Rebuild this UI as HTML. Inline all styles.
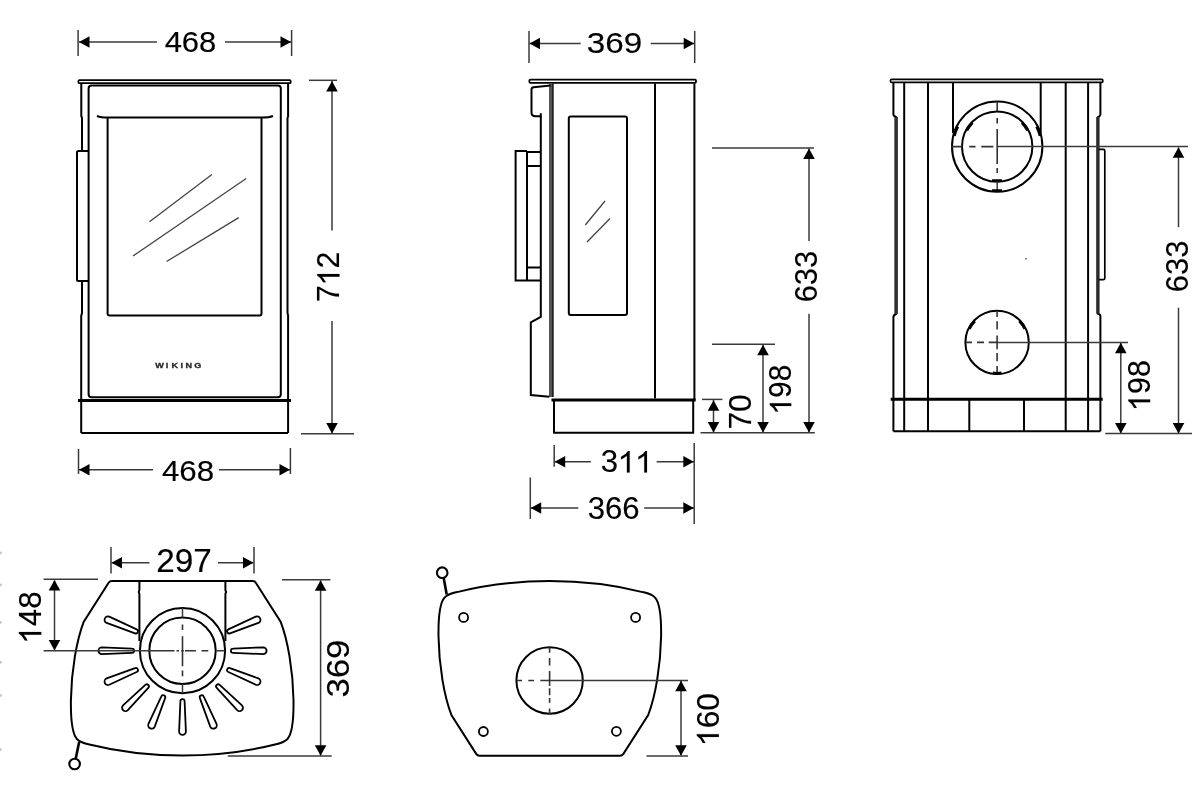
<!DOCTYPE html>
<html><head><meta charset="utf-8"><title>Stove dimensions</title>
<style>
html,body{margin:0;padding:0;background:#fff;width:1200px;height:802px;overflow:hidden}
svg{display:block;will-change:transform}
.o{stroke:#000;stroke-width:2;fill:none}
.d{stroke:#3a3a3a;stroke-width:1.5;fill:none}
.c{stroke:#444;stroke-width:1.5;fill:none;stroke-dasharray:11 4 5 4}
.cs{stroke:#333;stroke-width:1.6;fill:none}
.g{stroke:#444;stroke-width:1.3}
.ar{fill:#000}
.t{font-family:"Liberation Sans",sans-serif;font-size:31px;fill:#000;stroke:#000;stroke-width:0.15px}
</style></head>
<body>
<svg width="1200" height="802" viewBox="0 0 1200 802">
<rect width="1200" height="802" fill="#fff"/>
<line class="d" x1="78.1" y1="30" x2="78.1" y2="56"/>
<line class="d" x1="291.6" y1="30" x2="291.6" y2="56"/>
<line class="d" x1="79" y1="42" x2="157" y2="42"/>
<line class="d" x1="225" y1="42" x2="291" y2="42"/>
<polygon class="ar" points="79.0,42.0 89.5,36.2 89.5,47.8"/>
<polygon class="ar" points="291.0,42.0 280.5,36.2 280.5,47.8"/>
<g transform="translate(164.63,52.46) scale(0.9999,0.9474)"><text x="0.000" y="0" font-family="Liberation Sans, sans-serif" font-size="31" fill="#000" stroke="#000" stroke-width="0.15">4</text><text x="17.236" y="0" font-family="Liberation Sans, sans-serif" font-size="31" fill="#000" stroke="#000" stroke-width="0.15">6</text><text x="34.472" y="0" font-family="Liberation Sans, sans-serif" font-size="31" fill="#000" stroke="#000" stroke-width="0.15">8</text></g>
<rect class="o" x="78.4" y="80.2" width="212.3" height="3.0" rx="1" style="stroke-width:1.7px"/>
<path class="o" d="M81.3,84 V116 L82,118 V151 M82,281 V313 L81.2,316 V433"/>
<path class="o" d="M288.1,84 V116.5 L287.5,118 V313 L288.1,315.5 V433"/>
<path class="o" d="M88.6,394.3 V88.6 Q88.6,85.6 91.6,85.6 H277.8 Q280.8,85.6 280.8,88.6 V394.3 Q280.8,397.3 277.8,397.3 H91.6 Q88.6,397.3 88.6,394.3 Z"/>
<line class="o" x1="78" y1="400.4" x2="291" y2="400.4" style="stroke-width:3px"/>
<line class="o" x1="81.2" y1="433" x2="288" y2="433"/>
<path class="o" d="M97,116 Q101,117.6 108,117.6 H262 Q269,117.6 273,116"/>
<path class="o" d="M107.6,117.6 V313.5 Q107.6,315.5 109.6,315.5 H259.5 Q261.5,315.5 261.5,313.5 V117.6"/>
<path class="o" d="M88.6,151 H78.5 Q77,151 77,152.5 V279.5 Q77,281 78.5,281 H88.6"/>
<line class="g" x1="149.5" y1="221.7" x2="211.9" y2="174.4"/>
<line class="g" x1="133" y1="256" x2="246.2" y2="178.5"/>
<line class="g" x1="166.6" y1="261.5" x2="238.7" y2="217.6"/>
<text x="155.2 164.9 170.3 178.6 183.2 191.4" y="367.9" font-size="8.4" font-weight="bold" fill="#2a2a2a" stroke="#2a2a2a" stroke-width="0.35" font-family="Liberation Sans, sans-serif" transform="translate(155,367.8) scale(1.08,0.86) translate(-155,-367.8)">WIKING</text>
<line class="d" x1="309" y1="80.3" x2="337" y2="80.3"/>
<line class="d" x1="301" y1="433.8" x2="354" y2="433.8"/>
<line class="d" x1="332" y1="81" x2="332" y2="230.6"/>
<line class="d" x1="332" y1="321" x2="332" y2="433"/>
<polygon class="ar" points="332.0,81.0 326.2,91.5 337.8,91.5"/>
<polygon class="ar" points="332.0,433.5 326.2,423.0 337.8,423.0"/>
<g transform="translate(339.34,302.11) rotate(-90) scale(0.9760,1.0204)"><text x="0.000" y="0" font-family="Liberation Sans, sans-serif" font-size="31" fill="#000" stroke="#000" stroke-width="0.15">7</text><path d="M0.373,0.005 H0.285 V-0.545 Q0.2,-0.476 0.098,-0.424 V-0.51 Q0.255,-0.585 0.322,-0.70 H0.373 Z" transform="translate(17.236,0) scale(31)" fill="#000" stroke="#000" stroke-width="0.00484"/><text x="34.472" y="0" font-family="Liberation Sans, sans-serif" font-size="31" fill="#000" stroke="#000" stroke-width="0.15">2</text></g>
<line class="d" x1="78.5" y1="449" x2="78.5" y2="474"/>
<line class="d" x1="290.4" y1="448" x2="290.4" y2="474"/>
<line class="d" x1="79" y1="469.8" x2="153" y2="469.8"/>
<line class="d" x1="219" y1="469.8" x2="290" y2="469.8"/>
<polygon class="ar" points="79.0,469.8 89.5,464.0 89.5,475.6"/>
<polygon class="ar" points="290.0,469.8 279.5,464.0 279.5,475.6"/>
<g transform="translate(161.97,481.20) scale(1.0089,0.9700)"><text x="0.000" y="0" font-family="Liberation Sans, sans-serif" font-size="31" fill="#000" stroke="#000" stroke-width="0.15">4</text><text x="17.236" y="0" font-family="Liberation Sans, sans-serif" font-size="31" fill="#000" stroke="#000" stroke-width="0.15">6</text><text x="34.472" y="0" font-family="Liberation Sans, sans-serif" font-size="31" fill="#000" stroke="#000" stroke-width="0.15">8</text></g>
<line class="d" x1="529" y1="31" x2="529" y2="63"/>
<line class="d" x1="694.7" y1="31" x2="694.7" y2="63"/>
<line class="d" x1="529.5" y1="43.5" x2="580.7" y2="43.5"/>
<line class="d" x1="650.7" y1="43.5" x2="694.2" y2="43.5"/>
<polygon class="ar" points="529.5,43.5 540.0,37.7 540.0,49.3"/>
<polygon class="ar" points="694.2,43.5 683.7,37.7 683.7,49.3"/>
<g transform="translate(586.74,52.70) scale(1.0712,0.9677)"><text x="0.000" y="0" font-family="Liberation Sans, sans-serif" font-size="31" fill="#000" stroke="#000" stroke-width="0.15">3</text><text x="17.236" y="0" font-family="Liberation Sans, sans-serif" font-size="31" fill="#000" stroke="#000" stroke-width="0.15">6</text><text x="34.472" y="0" font-family="Liberation Sans, sans-serif" font-size="31" fill="#000" stroke="#000" stroke-width="0.15">9</text></g>
<rect class="o" x="529.4" y="79.6" width="166.6" height="3.2" rx="1" style="stroke-width:1.8px"/>
<line class="o" x1="694.4" y1="83.6" x2="694.4" y2="400"/>
<line class="o" x1="655" y1="83.6" x2="655" y2="398.5"/>
<rect x="549" y="83.6" width="3.3" height="313.4" fill="#555"/><line x1="552.9" y1="83.6" x2="552.9" y2="397" stroke="#111" stroke-width="1.6"/>
<path class="o" d="M550.6,85.6 L533.5,87.2 Q531.5,87.5 531.5,89.5 V112.5 Q531.5,116.2 535.5,116.2 H540.8 V113.3"/>
<path class="o" d="M540.8,116.2 V316.8 L530.8,322.4 V395 L549.3,396.8"/>
<path class="o" d="M527,151 H515.6 V280.6 H540.8 M527,151 V280.6 M527,152 H540.8 M527,166 H540.8 M527,267.6 H540.8"/>
<rect class="o" x="568.8" y="116.6" width="58.2" height="198.4" rx="2"/>
<line class="g" x1="585.3" y1="225" x2="605" y2="201"/>
<line class="g" x1="587" y1="242" x2="610" y2="218.5"/>
<line class="o" x1="551.5" y1="400" x2="695.7" y2="400" style="stroke-width:3px"/>
<path class="o" d="M554,400 V432.7 H693.2 V400"/>
<line class="d" x1="712" y1="148" x2="814" y2="148"/>
<line class="d" x1="809" y1="148.5" x2="809" y2="241"/>
<line class="d" x1="809" y1="313.7" x2="809" y2="432"/>
<polygon class="ar" points="809.0,148.5 803.2,159.0 814.8,159.0"/>
<polygon class="ar" points="809.0,432.6 803.2,422.1 814.8,422.1"/>
<g transform="translate(816.98,302.35) rotate(-90) scale(0.9995,1.0313)"><text x="0.000" y="0" font-family="Liberation Sans, sans-serif" font-size="31" fill="#000" stroke="#000" stroke-width="0.15">6</text><text x="17.236" y="0" font-family="Liberation Sans, sans-serif" font-size="31" fill="#000" stroke="#000" stroke-width="0.15">3</text><text x="34.472" y="0" font-family="Liberation Sans, sans-serif" font-size="31" fill="#000" stroke="#000" stroke-width="0.15">3</text></g>
<line class="d" x1="712" y1="344.3" x2="775" y2="344.3"/>
<line class="d" x1="763" y1="345" x2="763" y2="432"/>
<polygon class="ar" points="763.0,344.8 757.2,355.3 768.8,355.3"/>
<polygon class="ar" points="763.0,432.6 757.2,422.1 768.8,422.1"/>
<g transform="translate(791.10,414.54) rotate(-90) scale(0.9656,0.9835)"><path d="M0.373,0.005 H0.285 V-0.545 Q0.2,-0.476 0.098,-0.424 V-0.51 Q0.255,-0.585 0.322,-0.70 H0.373 Z" transform="translate(0.000,0) scale(31)" fill="#000" stroke="#000" stroke-width="0.00484"/><text x="17.236" y="0" font-family="Liberation Sans, sans-serif" font-size="31" fill="#000" stroke="#000" stroke-width="0.15">9</text><text x="34.472" y="0" font-family="Liberation Sans, sans-serif" font-size="31" fill="#000" stroke="#000" stroke-width="0.15">8</text></g>
<line class="d" x1="702" y1="399.4" x2="722.4" y2="399.4"/>
<line class="d" x1="713.5" y1="400" x2="713.5" y2="432"/>
<polygon class="ar" points="713.5,400.2 707.7,410.7 719.3,410.7"/>
<polygon class="ar" points="713.5,432.6 707.7,422.1 719.3,422.1"/>
<g transform="translate(750.59,429.60) rotate(-90) scale(1.0291,1.0086)"><text x="0.000" y="0" font-family="Liberation Sans, sans-serif" font-size="31" fill="#000" stroke="#000" stroke-width="0.15">7</text><text x="17.236" y="0" font-family="Liberation Sans, sans-serif" font-size="31" fill="#000" stroke="#000" stroke-width="0.15">0</text></g>
<line class="d" x1="700.5" y1="432.8" x2="814.8" y2="432.8"/>
<line class="d" x1="554.2" y1="445" x2="554.2" y2="466.7"/>
<line class="d" x1="694.2" y1="443" x2="694.2" y2="524"/>
<line class="d" x1="554.5" y1="461.7" x2="590.8" y2="461.7"/>
<line class="d" x1="656.7" y1="461.7" x2="694" y2="461.7"/>
<polygon class="ar" points="554.7,461.7 565.2,455.9 565.2,467.5"/>
<polygon class="ar" points="693.8,461.7 683.3,455.9 683.3,467.5"/>
<g transform="translate(600.66,472.44) scale(1.0067,0.9882)"><text x="0.000" y="0" font-family="Liberation Sans, sans-serif" font-size="31" fill="#000" stroke="#000" stroke-width="0.15">3</text><path d="M0.373,0.005 H0.285 V-0.545 Q0.2,-0.476 0.098,-0.424 V-0.51 Q0.255,-0.585 0.322,-0.70 H0.373 Z" transform="translate(17.236,0) scale(31)" fill="#000" stroke="#000" stroke-width="0.00484"/><path d="M0.373,0.005 H0.285 V-0.545 Q0.2,-0.476 0.098,-0.424 V-0.51 Q0.255,-0.585 0.322,-0.70 H0.373 Z" transform="translate(34.472,0) scale(31)" fill="#000" stroke="#000" stroke-width="0.00484"/></g>
<line class="d" x1="530.3" y1="477.5" x2="530.3" y2="519"/>
<line class="d" x1="530.5" y1="508" x2="578.3" y2="508"/>
<line class="d" x1="644.2" y1="508" x2="694" y2="508"/>
<polygon class="ar" points="530.7,508.0 541.2,502.2 541.2,513.8"/>
<polygon class="ar" points="693.8,508.0 683.3,502.2 683.3,513.8"/>
<g transform="translate(587.66,519.10) scale(1.0053,0.9814)"><text x="0.000" y="0" font-family="Liberation Sans, sans-serif" font-size="31" fill="#000" stroke="#000" stroke-width="0.15">3</text><text x="17.236" y="0" font-family="Liberation Sans, sans-serif" font-size="31" fill="#000" stroke="#000" stroke-width="0.15">6</text><text x="34.472" y="0" font-family="Liberation Sans, sans-serif" font-size="31" fill="#000" stroke="#000" stroke-width="0.15">6</text></g>
<rect class="o" x="890.5" y="79.4" width="212.3" height="2.9" rx="1" style="stroke-width:1.7px"/>
<path class="o" d="M893.4,82.4 V114.5 Q893.4,116 896.2,117.2 V314 Q893.4,315 893.4,317 V431.3"/>
<line x1="896.1" y1="117" x2="896.1" y2="314" stroke="#2e2e2e" stroke-width="3.5"/>
<path class="o" d="M1100.4,82.4 V114.5 Q1100.4,116 1097.9,117.2 V313.7 Q1100.4,314.2 1100.4,316 V431.3"/>
<line x1="1097.9" y1="117" x2="1097.9" y2="313.7" stroke="#2a2a2a" stroke-width="3.4"/>
<line class="o" x1="904.2" y1="82.4" x2="904.2" y2="431.3"/>
<line class="o" x1="928" y1="82.4" x2="928" y2="431.3"/>
<line class="o" x1="1065.7" y1="82.4" x2="1065.7" y2="431.3"/>
<line class="o" x1="1088.1" y1="82.4" x2="1088.1" y2="431.3"/>
<line class="o" x1="953" y1="82.4" x2="953" y2="133"/>
<line class="o" x1="1040.7" y1="82.4" x2="1040.7" y2="133"/>
<line class="o" x1="890.7" y1="399.3" x2="1102.7" y2="399.3" style="stroke-width:3px"/>
<line class="o" x1="893.4" y1="431.3" x2="1100.4" y2="431.3"/>
<line class="o" x1="969.3" y1="399.3" x2="969.3" y2="431.3"/>
<line class="o" x1="1024" y1="399.3" x2="1024" y2="431.3"/>
<path class="o" style="stroke-width:1.7px" d="M1098.9,149.4 H1103.3 Q1104.8,149.4 1104.8,150.9 V278.2 Q1104.8,279.7 1103.3,279.7 H1098.9"/>
<circle class="o" cx="997.2" cy="146.6" r="45.2" style="fill:#fff"/>
<circle class="o" cx="997.2" cy="146.6" r="35.2"/>
<path class="cs" d="M951.3,146.6 H962.2 M969.2,146.6 H975.5 M981.3,146.6 H993.4"/>
<line class="d" x1="997.2" y1="146.6" x2="1188" y2="146.6"/>
<path class="cs" d="M997.2,101.5 V111 M997.2,118.1 V123.6 M997.2,129.1 V164 M997.2,168.1 V173"/>
<line class="d" x1="997.2" y1="181" x2="997.2" y2="191"/>
<path d="M992,180.5 H1002 M992,190.5 H1002" stroke="#000" stroke-width="2.6"/>
<path d="M966.74,130.40 A34.5,34.5 0 0 1 972.38,122.63" stroke="#000" stroke-width="3.0" fill="none"/>
<path d="M1022.02,122.63 A34.5,34.5 0 0 1 1027.66,130.40" stroke="#000" stroke-width="3.0" fill="none"/>
<path d="M954.12,135.86 A44.4,44.4 0 0 1 957.64,126.44" stroke="#000" stroke-width="3.2" fill="none"/>
<path d="M1036.76,126.44 A44.4,44.4 0 0 1 1040.28,135.86" stroke="#000" stroke-width="3.2" fill="none"/>
<circle class="o" cx="997.1" cy="342.4" r="31.7"/>
<path class="cs" d="M965.7,342.4 H972 M977,342.4 H984 M988.7,342.4 H997"/>
<line class="d" x1="997.1" y1="342.4" x2="1128" y2="342.4"/>
<path class="cs" d="M997.1,310.8 V317 M997.1,321.2 V329.5 M997.1,335.5 V349.3 M997.1,353 V361.3 M997.1,366 V373.5"/>
<path d="M969.24,328.81 A31.0,31.0 0 0 1 974.80,320.87" stroke="#000" stroke-width="3.0" fill="none"/>
<path d="M1019.40,320.87 A31.0,31.0 0 0 1 1024.96,328.81" stroke="#000" stroke-width="3.0" fill="none"/>
<path d="M1001.41,373.10 A31.0,31.0 0 0 1 992.79,373.10" stroke="#000" stroke-width="3.0" fill="none"/>
<circle cx="1026" cy="258.7" r="0.8" fill="#333"/>
<line class="d" x1="1178.5" y1="147.5" x2="1178.5" y2="227.2"/>
<line class="d" x1="1178.5" y1="307.7" x2="1178.5" y2="433"/>
<polygon class="ar" points="1178.5,147.2 1172.7,157.7 1184.3,157.7"/>
<polygon class="ar" points="1178.5,433.5 1172.7,423.0 1184.3,423.0"/>
<g transform="translate(1188.29,292.15) rotate(-90) scale(0.9995,1.0132)"><text x="0.000" y="0" font-family="Liberation Sans, sans-serif" font-size="31" fill="#000" stroke="#000" stroke-width="0.15">6</text><text x="17.236" y="0" font-family="Liberation Sans, sans-serif" font-size="31" fill="#000" stroke="#000" stroke-width="0.15">3</text><text x="34.472" y="0" font-family="Liberation Sans, sans-serif" font-size="31" fill="#000" stroke="#000" stroke-width="0.15">3</text></g>
<line class="d" x1="1120.8" y1="343" x2="1120.8" y2="433"/>
<polygon class="ar" points="1120.8,342.8 1115.0,353.3 1126.6,353.3"/>
<polygon class="ar" points="1120.8,433.5 1115.0,423.0 1126.6,423.0"/>
<g transform="translate(1149.99,410.90) rotate(-90) scale(0.9846,1.0016)"><path d="M0.373,0.005 H0.285 V-0.545 Q0.2,-0.476 0.098,-0.424 V-0.51 Q0.255,-0.585 0.322,-0.70 H0.373 Z" transform="translate(0.000,0) scale(31)" fill="#000" stroke="#000" stroke-width="0.00484"/><text x="17.236" y="0" font-family="Liberation Sans, sans-serif" font-size="31" fill="#000" stroke="#000" stroke-width="0.15">9</text><text x="34.472" y="0" font-family="Liberation Sans, sans-serif" font-size="31" fill="#000" stroke="#000" stroke-width="0.15">8</text></g>
<line class="d" x1="1105.3" y1="433.5" x2="1192" y2="433.5"/>
<path class="o" d="M112.00,580.90 H252.40 Q254.60,580.90 255.80,582.70 L280.60,621.60 C287.70,640.00 293.00,670.00 293.50,700.00 C293.80,722.00 292.00,734.00 287.50,739.00 C284.50,742.00 280.00,743.50 275.00,744.50 C245.00,752.00 215.00,755.50 182.20,755.50 C149.40,755.50 119.40,752.00 89.40,744.50 C84.40,743.50 79.90,742.00 76.90,739.00 C72.40,734.00 70.60,722.00 70.90,700.00 C71.40,670.00 76.70,640.00 83.80,621.60 L108.60,582.70 Q109.80,580.90 112.00,580.90 Z"/>
<path class="o" d="M139.4,580.2 V590 L138.7,592 L139.4,594 V641 M225.4,580.2 V590 L226.1,592 L225.4,594 V641"/>
<circle class="o" cx="182.5" cy="650.7" r="42.6" style="fill:#fff"/>
<circle class="o" cx="182.5" cy="650.7" r="33.2"/>
<path class="o" style="stroke-width:1.8px" transform="translate(182.5,650.7) rotate(-22.5)" d="M50.5,-2.1 L80.7,-3.4 A3.4,3.4 0 0 1 80.7,3.4 L50.5,2.1 A2.1,2.1 0 0 1 50.5,-2.1 Z"/>
<path class="o" style="stroke-width:1.8px" transform="translate(182.5,650.7) rotate(0.0)" d="M50.5,-2.1 L80.7,-3.4 A3.4,3.4 0 0 1 80.7,3.4 L50.5,2.1 A2.1,2.1 0 0 1 50.5,-2.1 Z"/>
<path class="o" style="stroke-width:1.8px" transform="translate(182.5,650.7) rotate(22.5)" d="M50.5,-2.1 L80.7,-3.4 A3.4,3.4 0 0 1 80.7,3.4 L50.5,2.1 A2.1,2.1 0 0 1 50.5,-2.1 Z"/>
<path class="o" style="stroke-width:1.8px" transform="translate(182.5,650.7) rotate(45.0)" d="M50.5,-2.1 L80.7,-3.4 A3.4,3.4 0 0 1 80.7,3.4 L50.5,2.1 A2.1,2.1 0 0 1 50.5,-2.1 Z"/>
<path class="o" style="stroke-width:1.8px" transform="translate(182.5,650.7) rotate(67.5)" d="M50.5,-2.1 L80.7,-3.4 A3.4,3.4 0 0 1 80.7,3.4 L50.5,2.1 A2.1,2.1 0 0 1 50.5,-2.1 Z"/>
<path class="o" style="stroke-width:1.8px" transform="translate(182.5,650.7) rotate(90.0)" d="M50.5,-2.1 L80.7,-3.4 A3.4,3.4 0 0 1 80.7,3.4 L50.5,2.1 A2.1,2.1 0 0 1 50.5,-2.1 Z"/>
<path class="o" style="stroke-width:1.8px" transform="translate(182.5,650.7) rotate(112.5)" d="M50.5,-2.1 L80.7,-3.4 A3.4,3.4 0 0 1 80.7,3.4 L50.5,2.1 A2.1,2.1 0 0 1 50.5,-2.1 Z"/>
<path class="o" style="stroke-width:1.8px" transform="translate(182.5,650.7) rotate(135.0)" d="M50.5,-2.1 L80.7,-3.4 A3.4,3.4 0 0 1 80.7,3.4 L50.5,2.1 A2.1,2.1 0 0 1 50.5,-2.1 Z"/>
<path class="o" style="stroke-width:1.8px" transform="translate(182.5,650.7) rotate(157.5)" d="M50.5,-2.1 L80.7,-3.4 A3.4,3.4 0 0 1 80.7,3.4 L50.5,2.1 A2.1,2.1 0 0 1 50.5,-2.1 Z"/>
<path class="o" style="stroke-width:1.8px" transform="translate(182.5,650.7) rotate(180.0)" d="M50.5,-2.1 L80.7,-3.4 A3.4,3.4 0 0 1 80.7,3.4 L50.5,2.1 A2.1,2.1 0 0 1 50.5,-2.1 Z"/>
<path class="o" style="stroke-width:1.8px" transform="translate(182.5,650.7) rotate(202.5)" d="M50.5,-2.1 L80.7,-3.4 A3.4,3.4 0 0 1 80.7,3.4 L50.5,2.1 A2.1,2.1 0 0 1 50.5,-2.1 Z"/>
<line class="d" x1="43.6" y1="650.7" x2="150" y2="650.7"/>
<path class="cs" d="M150,650.7 H174.5 M176.5,650.7 H179 M181.2,650.7 H183.8 M185,650.7 H195.9 M201.5,650.7 H208.3 M216.5,650.7 H224.5"/>
<path class="cs" d="M182.5,624.4 V630 M182.5,636.2 V666.2 M182.5,670.6 V676.2"/>
<line class="d" x1="182.5" y1="608" x2="182.5" y2="617.5"/><line class="d" x1="182.5" y1="684" x2="182.5" y2="693.4"/>
<line x1="79.2" y1="741.7" x2="75.8" y2="758.3" stroke="#000" stroke-width="2.6"/>
<circle class="o" cx="74.6" cy="764" r="5.3" style="fill:#fff;stroke-width:2.1px"/>
<line class="d" x1="111" y1="547" x2="111" y2="573.6"/>
<line class="d" x1="254" y1="547" x2="254" y2="573.6"/>
<line class="d" x1="111.5" y1="562.7" x2="149.5" y2="562.7"/>
<line class="d" x1="218" y1="562.7" x2="253.5" y2="562.7"/>
<polygon class="ar" points="111.5,562.7 122.0,556.9 122.0,568.5"/>
<polygon class="ar" points="253.5,562.7 243.0,556.9 243.0,568.5"/>
<g transform="translate(156.24,571.56) scale(1.0725,1.0995)"><text x="0.000" y="0" font-family="Liberation Sans, sans-serif" font-size="31" fill="#000" stroke="#000" stroke-width="0.15">2</text><text x="17.236" y="0" font-family="Liberation Sans, sans-serif" font-size="31" fill="#000" stroke="#000" stroke-width="0.15">9</text><text x="34.472" y="0" font-family="Liberation Sans, sans-serif" font-size="31" fill="#000" stroke="#000" stroke-width="0.15">7</text></g>
<line class="d" x1="43.6" y1="579.2" x2="98" y2="579.2"/>
<line class="d" x1="54.5" y1="580.5" x2="54.5" y2="650"/>
<polygon class="ar" points="54.5,580.0 48.7,590.5 60.3,590.5"/>
<polygon class="ar" points="54.5,650.5 48.7,640.0 60.3,640.0"/>
<g transform="translate(41.08,643.57) rotate(-90) scale(1.0099,1.0241)"><path d="M0.373,0.005 H0.285 V-0.545 Q0.2,-0.476 0.098,-0.424 V-0.51 Q0.255,-0.585 0.322,-0.70 H0.373 Z" transform="translate(0.000,0) scale(31)" fill="#000" stroke="#000" stroke-width="0.00484"/><text x="17.236" y="0" font-family="Liberation Sans, sans-serif" font-size="31" fill="#000" stroke="#000" stroke-width="0.15">4</text><text x="34.472" y="0" font-family="Liberation Sans, sans-serif" font-size="31" fill="#000" stroke="#000" stroke-width="0.15">8</text></g>
<line class="d" x1="282" y1="579.8" x2="330.4" y2="579.8"/>
<line class="d" x1="227.7" y1="756" x2="331.7" y2="756"/>
<line class="d" x1="320.6" y1="580.5" x2="320.6" y2="755.5"/>
<polygon class="ar" points="320.6,580.3 314.8,590.8 326.4,590.8"/>
<polygon class="ar" points="320.6,755.8 314.8,745.3 326.4,745.3"/>
<g transform="translate(349.08,697.62) rotate(-90) scale(1.1240,1.0177)"><text x="0.000" y="0" font-family="Liberation Sans, sans-serif" font-size="31" fill="#000" stroke="#000" stroke-width="0.15">3</text><text x="17.236" y="0" font-family="Liberation Sans, sans-serif" font-size="31" fill="#000" stroke="#000" stroke-width="0.15">6</text><text x="34.472" y="0" font-family="Liberation Sans, sans-serif" font-size="31" fill="#000" stroke="#000" stroke-width="0.15">9</text></g>
<g transform="translate(367.6,1336.6) scale(1,-1)"><path class="o" d="M112.00,580.90 H252.40 Q254.60,580.90 255.80,582.70 L280.60,621.60 C287.70,640.00 293.00,670.00 293.50,700.00 C293.80,722.00 292.00,734.00 287.50,739.00 C284.50,742.00 280.00,743.50 275.00,744.50 C245.00,752.00 215.00,755.50 182.20,755.50 C149.40,755.50 119.40,752.00 89.40,744.50 C84.40,743.50 79.90,742.00 76.90,739.00 C72.40,734.00 70.60,722.00 70.90,700.00 C71.40,670.00 76.70,640.00 83.80,621.60 L108.60,582.70 Q109.80,580.90 112.00,580.90 Z"/></g>
<circle class="o" cx="463.6" cy="617.4" r="4.5" style="stroke-width:1.8px"/>
<circle class="o" cx="635.6" cy="617.4" r="4.5" style="stroke-width:1.8px"/>
<circle class="o" cx="483.4" cy="731.5" r="4.5" style="stroke-width:1.8px"/>
<circle class="o" cx="616.4" cy="731.3" r="4.5" style="stroke-width:1.8px"/>
<circle class="o" cx="549.6" cy="680.5" r="33.2"/>
<path class="cs" d="M516.7,680.5 H522 M528.3,680.5 H534 M540.3,680.5 H549.7"/>
<line class="d" x1="549.6" y1="680.5" x2="688" y2="680.5"/>
<path class="cs" d="M549.6,647.2 V652.8 M549.6,658 V665.4 M549.6,671 V686 M549.6,688.3 V695.3 M549.6,698.1 V702.8 M549.6,708.4 V714"/>
<line x1="443.7" y1="578" x2="446.7" y2="594.4" stroke="#000" stroke-width="2.6"/>
<circle class="o" cx="442.2" cy="572.7" r="5.3" style="fill:#fff;stroke-width:2.1px"/>
<line class="d" x1="681" y1="681" x2="681" y2="755.5"/>
<polygon class="ar" points="681.0,680.8 675.2,691.3 686.8,691.3"/>
<polygon class="ar" points="681.0,755.8 675.2,745.3 686.8,745.3"/>
<line class="d" x1="646.5" y1="756" x2="688" y2="756"/>
<g transform="translate(718.69,746.02) rotate(-90) scale(1.0255,1.0086)"><path d="M0.373,0.005 H0.285 V-0.545 Q0.2,-0.476 0.098,-0.424 V-0.51 Q0.255,-0.585 0.322,-0.70 H0.373 Z" transform="translate(0.000,0) scale(31)" fill="#000" stroke="#000" stroke-width="0.00484"/><text x="17.236" y="0" font-family="Liberation Sans, sans-serif" font-size="31" fill="#000" stroke="#000" stroke-width="0.15">6</text><text x="34.472" y="0" font-family="Liberation Sans, sans-serif" font-size="31" fill="#000" stroke="#000" stroke-width="0.15">0</text></g>
<circle cx="0.6" cy="553" r="1.4" fill="#c8c8c8"/>
<circle cx="0.6" cy="585" r="1.4" fill="#c8c8c8"/>
<circle cx="0.6" cy="622.4" r="1.4" fill="#c8c8c8"/>
<circle cx="0.6" cy="662.3" r="1.4" fill="#c8c8c8"/>
<circle cx="0.6" cy="695.5" r="1.4" fill="#c8c8c8"/>
<circle cx="0.6" cy="749.6" r="1.4" fill="#c8c8c8"/>
</svg>
</body></html>
